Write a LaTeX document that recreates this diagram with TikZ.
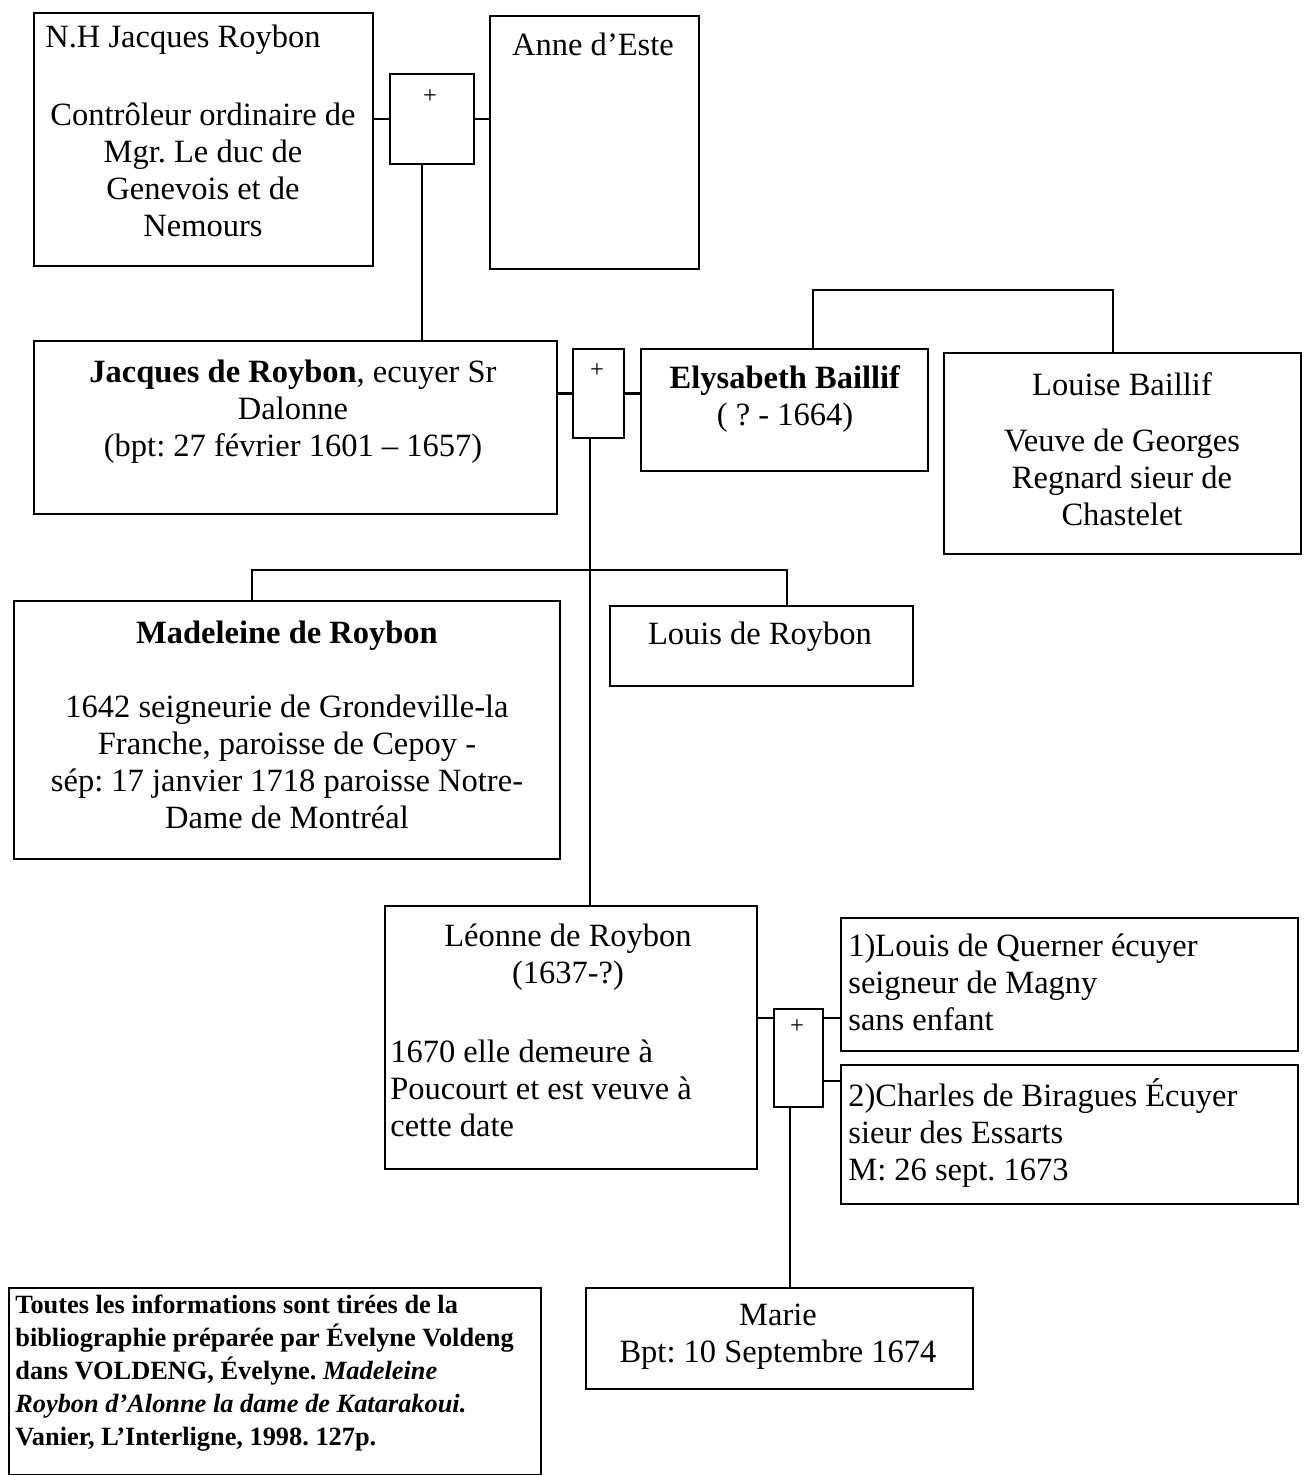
\documentclass[tikz,border=0pt]{standalone}
\usepackage{fontspec}
\setmainfont{Liberation Serif}
\usetikzlibrary{positioning}
\frenchspacing

\begin{document}
\begin{tikzpicture}[x=0.02cm, y=-0.02cm,
	box/.style 2 args={draw, line width=1.2pt, anchor=north west, inner sep=0pt, minimum width=#1*0.02cm, minimum height=#2*0.02cm},
	txt/.style={inner sep=0pt, align=center, font=\fontsize{18.5}{21}\selectfont},
	plussign/.style={inner sep=0pt, font=\fontsize{14}{16}\selectfont},
	link/.style={line width=0.7pt},
	marriage/.style={line width=1.8pt}]
	
	\useasboundingbox (0,0) rectangle (1309,1475);
	
	% boxes
	\node[box={339}{253}] (nh) at (33,12) {};
	\node[box={84}{90}] (plus1) at (389,73) {};
	\node[box={209}{253}] (anne) at (489,15) {};
	
	\node[box={523}{173}] (jacques) at (33,340) {};
	\node[box={51}{89}] (plus2) at (572,348) {};
	\node[box={287}{122}] (elys) at (640,348) {};
	\node[box={357}{201}] (louise) at (943,352) {};
	
	\node[box={546}{258}] (madeleine) at (13,600) {};
	\node[box={303}{80}] (louisr) at (609,605) {};
	
	\node[box={372}{263}] (leonne) at (384,905) {};
	\node[box={49}{98}] (plus3) at (773,1008) {};
	\node[box={457}{133}] (querner) at (840,917) {};
	\node[box={457}{139}] (charles) at (840,1064) {};
	
	\node[box={387}{101}] (marie) at (585,1287) {};
	\node[box={532}{187}] (note) at (8,1287) {};
	
	% texts
	\node[txt, anchor=west] (nhname) at (45,40) {N.H Jacques Roybon};
	\node[txt] (nhrole) at (203,170) {Contrôleur ordinaire de\\Mgr. Le duc de\\Genevois et de\\Nemours};
	\node[txt] (annetxt) at (593,44) {Anne d’Este};
	
	\node[txt] (jacqtxt) at (293,412) {\textbf{Jacques de Roybon}, ecuyer Sr\\Dalonne\\(bpt: 27 février 1601 – 1657)};
	\node[txt] (elystxt) at (785,399) {\textbf{Elysabeth Baillif}\\( ? - 1664)};
	\node[txt] (louisetxt) at (1122,449) {Louise Baillif\\[11pt]Veuve de Georges\\Regnard sieur de\\Chastelet};
	
	\node[txt] (madtxt) at (287,725) {\textbf{Madeleine de Roybon}\\[21pt]1642 seigneurie de Grondeville-la\\Franche, paroisse de Cepoy -\\sép: 17 janvier 1718 paroisse Notre-\\Dame de Montréal};
	\node[txt] (louisrtxt) at (760,637) {Louis de Roybon};
	
	\node[txt] (leontitle) at (568,957) {Léonne de Roybon\\(1637-?)};
	\node[txt, align=left, anchor=west] (leonbody) at (390,1088) {1670 elle demeure à\\Poucourt et est veuve à\\cette date};
	\node[txt, align=left, anchor=west] (quernertxt) at (848,982) {1)Louis de Querner écuyer\\seigneur de Magny\\sans enfant};
	\node[txt, align=left, anchor=west] (charlestxt) at (848,1133) {2)Charles de Biragues Écuyer\\sieur des Essarts\\M: 26 sept. 1673};
	
	\node[txt] (marietxt) at (778,1337) {Marie\\Bpt: 10 Septembre 1674};
	\node[txt, align=left, anchor=west, font=\fontsize{15}{18.7}\selectfont\bfseries] (notetxt) at (15,1373) {Toutes les informations sont tirées de la\\bibliographie préparée par Évelyne Voldeng\\dans VOLDENG, Évelyne. \textit{Madeleine}\\\textit{Roybon d’Alonne la dame de Katarakoui.}\\Vanier, L’Interligne, 1998. 127p.};
	
	\node[plussign] (sign1) at (430,97) {+};
	\node[plussign] (sign2) at (597,371) {+};
	\node[plussign] (sign3) at (797,1027) {+};
	
	% connectors
	\draw[link] (plus1.west) -- (plus1.west -| nh.east);
	\draw[link] (plus1.east) -- (plus1.east -| anne.west);
	\draw[link] ([xshift=-0.2cm]plus1.south) -- ([xshift=-0.2cm]plus1.south |- jacques.north);
	
	\draw[marriage] (plus2.west) -- (plus2.west -| jacques.east);
	\draw[marriage] (plus2.east) -- (plus2.east -| elys.west);
	\draw[link] ([xshift=-0.17cm]plus2.south) -- ([xshift=-0.17cm]plus2.south |- leonne.north);
	
	\draw[link] ([xshift=0.57cm]elys.north) -- ++(0,-58) -| ([xshift=-0.19cm]louise.north);
	\draw[link] ([xshift=-0.7cm]madeleine.north) -- ++(0,-30) -| ([xshift=0.51cm]louisr.north);
	
	\draw[link] ([yshift=0.8cm]plus3.west) -- ([yshift=0.8cm]plus3.west -| leonne.east);
	\draw[link] ([yshift=0.8cm]plus3.east) -- ([yshift=0.8cm]plus3.east -| querner.west);
	\draw[link] ([yshift=-0.46cm]plus3.east) -- ([yshift=-0.46cm]plus3.east -| charles.west);
	\draw[link] ([xshift=-0.17cm]plus3.south) -- ([xshift=-0.17cm]plus3.south |- marie.north);
	
\end{tikzpicture}
\end{document}
